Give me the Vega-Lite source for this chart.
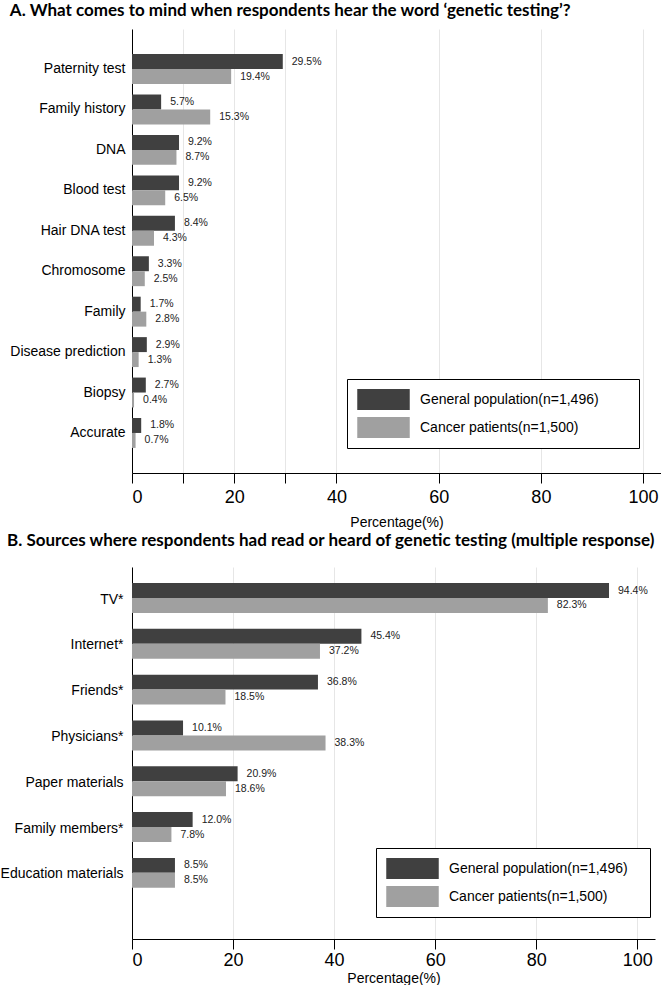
{
  "$schema": "https://vega.github.io/schema/vega-lite/v6.json",
  "background": "white",
  "padding": {"left": 0, "top": 2, "right": 0, "bottom": 0},
  "spacing": 3,
  "align": "none",
  "resolve": {"legend": {"color": "independent"}},
  "config": {
    "view": {"stroke": null},
    "font": "Liberation Sans",
    "axis": {"labelColor": "black", "titleColor": "black", "domainColor": "black", "tickColor": "black", "titleFontWeight": "normal"},
    "legend": {"labelColor": "black"}
  },
  "datasets": {
    "a": [
      {"item": "Paternity test", "group": "General population(n=1,496)", "value": 29.5, "label": "29.5%"},
      {"item": "Paternity test", "group": "Cancer patients(n=1,500)", "value": 19.4, "label": "19.4%"},
      {"item": "Family history", "group": "General population(n=1,496)", "value": 5.7, "label": "5.7%"},
      {"item": "Family history", "group": "Cancer patients(n=1,500)", "value": 15.3, "label": "15.3%"},
      {"item": "DNA", "group": "General population(n=1,496)", "value": 9.2, "label": "9.2%"},
      {"item": "DNA", "group": "Cancer patients(n=1,500)", "value": 8.7, "label": "8.7%"},
      {"item": "Blood test", "group": "General population(n=1,496)", "value": 9.2, "label": "9.2%"},
      {"item": "Blood test", "group": "Cancer patients(n=1,500)", "value": 6.5, "label": "6.5%"},
      {"item": "Hair DNA test", "group": "General population(n=1,496)", "value": 8.4, "label": "8.4%"},
      {"item": "Hair DNA test", "group": "Cancer patients(n=1,500)", "value": 4.3, "label": "4.3%"},
      {"item": "Chromosome", "group": "General population(n=1,496)", "value": 3.3, "label": "3.3%"},
      {"item": "Chromosome", "group": "Cancer patients(n=1,500)", "value": 2.5, "label": "2.5%"},
      {"item": "Family", "group": "General population(n=1,496)", "value": 1.7, "label": "1.7%"},
      {"item": "Family", "group": "Cancer patients(n=1,500)", "value": 2.8, "label": "2.8%"},
      {"item": "Disease prediction", "group": "General population(n=1,496)", "value": 2.9, "label": "2.9%"},
      {"item": "Disease prediction", "group": "Cancer patients(n=1,500)", "value": 1.3, "label": "1.3%"},
      {"item": "Biopsy", "group": "General population(n=1,496)", "value": 2.7, "label": "2.7%"},
      {"item": "Biopsy", "group": "Cancer patients(n=1,500)", "value": 0.4, "label": "0.4%"},
      {"item": "Accurate", "group": "General population(n=1,496)", "value": 1.8, "label": "1.8%"},
      {"item": "Accurate", "group": "Cancer patients(n=1,500)", "value": 0.7, "label": "0.7%"}
    ],
    "b": [
      {"item": "TV*", "group": "General population(n=1,496)", "value": 94.4, "label": "94.4%"},
      {"item": "TV*", "group": "Cancer patients(n=1,500)", "value": 82.3, "label": "82.3%"},
      {"item": "Internet*", "group": "General population(n=1,496)", "value": 45.4, "label": "45.4%"},
      {"item": "Internet*", "group": "Cancer patients(n=1,500)", "value": 37.2, "label": "37.2%"},
      {"item": "Friends*", "group": "General population(n=1,496)", "value": 36.8, "label": "36.8%"},
      {"item": "Friends*", "group": "Cancer patients(n=1,500)", "value": 18.5, "label": "18.5%"},
      {"item": "Physicians*", "group": "General population(n=1,496)", "value": 10.1, "label": "10.1%"},
      {"item": "Physicians*", "group": "Cancer patients(n=1,500)", "value": 38.3, "label": "38.3%"},
      {"item": "Paper materials", "group": "General population(n=1,496)", "value": 20.9, "label": "20.9%"},
      {"item": "Paper materials", "group": "Cancer patients(n=1,500)", "value": 18.6, "label": "18.6%"},
      {"item": "Family members*", "group": "General population(n=1,496)", "value": 12.0, "label": "12.0%"},
      {"item": "Family members*", "group": "Cancer patients(n=1,500)", "value": 7.8, "label": "7.8%"},
      {"item": "Education materials", "group": "General population(n=1,496)", "value": 8.5, "label": "8.5%"},
      {"item": "Education materials", "group": "Cancer patients(n=1,500)", "value": 8.5, "label": "8.5%"}
    ]
  },
  "vconcat": [
    {
      "title": {"text": "A. What comes to mind when respondents hear the word ‘genetic testing’?", "anchor": "start", "frame": "bounds", "font": "Lato", "fontSize": 17, "fontWeight": "bold", "color": "black", "offset": 9, "dx": 0},
      "width": 529,
      "height": 444,
      "data": {"name": "a"},
      "encoding": {
        "y": {"field": "item", "type": "nominal", "sort": null, "scale": {"paddingInner": 0.26, "paddingOuter": 0.62}, "axis": {"title": null, "ticks": false, "labelPadding": 7, "labelFontSize": 14}},
        "yOffset": {"field": "group", "type": "nominal", "sort": null, "scale": {"paddingInner": 0, "paddingOuter": 0}}
      },
      "layer": [
        {
          "mark": {"type": "bar"},
          "encoding": {
            "x": {"field": "value", "type": "quantitative", "scale": {"domain": [0, 103.5], "nice": false}, "axis": {"values": [0, 10, 20, 30, 40, 60, 80, 100], "labelExpr": "datum.value % 20 == 0 ? datum.label : ''", "title": "Percentage(%)", "grid": true, "gridColor": "#e6e6e6", "tickSize": 10, "labelFontSize": 18, "titleFontSize": 14, "labelPadding": 5, "titlePadding": 9}},
            "color": {"field": "group", "type": "nominal", "sort": null, "scale": {"domain": ["General population(n=1,496)", "Cancer patients(n=1,500)"], "range": ["#404040", "#a0a0a0"]}, "legend": {"orient": "none", "legendX": 215, "legendY": 350, "title": " ", "titleOrient": "right", "titlePadding": 30, "symbolType": "M-2.5,-1H2.5V1H-2.5Z", "symbolSize": 441, "symbolOffset": 16, "symbolStrokeWidth": 0, "symbolOpacity": 1, "labelFontSize": 14, "labelLimit": 300, "strokeColor": "black", "fillColor": "white", "padding": 10, "rowPadding": 7, "labelOffset": 26}}
          }
        },
        {
          "mark": {"type": "text", "align": "left", "dx": 9, "fontSize": 10.5, "color": "#222222"},
          "encoding": {
            "x": {"field": "value", "type": "quantitative"},
            "text": {"field": "label", "type": "nominal"}
          }
        }
      ]
    },
    {
      "title": {"text": "B. Sources where respondents had read or heard of genetic testing (multiple response)", "anchor": "start", "frame": "bounds", "font": "Lato", "fontSize": 17, "fontWeight": "bold", "color": "black", "offset": 17, "dx": 7},
      "width": 523,
      "height": 372,
      "data": {"name": "b"},
      "encoding": {
        "y": {"field": "item", "type": "nominal", "sort": null, "scale": {"paddingInner": 0.28, "paddingOuter": 0.7, "align": 0.25}, "axis": {"title": null, "ticks": false, "labelPadding": 9, "labelFontSize": 14}},
        "yOffset": {"field": "group", "type": "nominal", "sort": null, "scale": {"paddingInner": 0, "paddingOuter": 0}}
      },
      "layer": [
        {
          "mark": {"type": "bar"},
          "encoding": {
            "x": {"field": "value", "type": "quantitative", "scale": {"domain": [0, 103.5], "nice": false}, "axis": {"values": [0, 20, 40, 60, 80, 100], "title": "Percentage(%)", "grid": true, "gridColor": "#e6e6e6", "tickSize": 10, "labelFontSize": 18, "titleFontSize": 14, "labelPadding": 2, "titlePadding": 2}},
            "color": {"field": "group", "type": "nominal", "sort": null, "scale": {"domain": ["General population(n=1,496)", "Cancer patients(n=1,500)"], "range": ["#404040", "#a0a0a0"]}, "legend": {"orient": "none", "legendX": 244, "legendY": 281, "title": " ", "titleOrient": "right", "titlePadding": 12, "symbolType": "M-2.5,-1H2.5V1H-2.5Z", "symbolSize": 441, "symbolOffset": 16, "symbolStrokeWidth": 0, "symbolOpacity": 1, "labelFontSize": 14, "labelLimit": 300, "strokeColor": "black", "fillColor": "white", "padding": 10, "rowPadding": 7, "labelOffset": 26}}
          }
        },
        {
          "mark": {"type": "text", "align": "left", "dx": 9, "fontSize": 10.5, "color": "#222222"},
          "encoding": {
            "x": {"field": "value", "type": "quantitative"},
            "text": {"field": "label", "type": "nominal"}
          }
        }
      ]
    }
  ]
}
